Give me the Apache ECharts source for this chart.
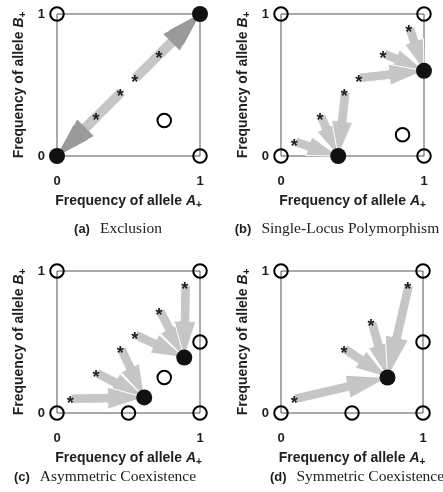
<!DOCTYPE html>
<html>
<head>
<meta charset="utf-8">
<script src="https://cdn.jsdelivr.net/npm/echarts@6/dist/echarts.min.js"></script>
<style>
  html, body { margin: 0; padding: 0; background: #fff; }
  #chart { width: 443px; height: 492px; }
</style>
</head>
<body>
<div id="chart"></div>
<script>
// Phase portraits of the allele frequencies (A+, B+) under four regimes.
// Open circles: unstable equilibria. Filled circles: stable equilibria.
// Asterisks: initial conditions; arrows: where each trajectory ends up.

const captionTags   = ['(a)', '(b)', '(c)', '(d)'];
const captionTitles = ['Exclusion', 'Single-Locus Polymorphism', 'Asymmetric Coexistence', 'Symmetric Coexistence'];
const tickLabels    = ['0', '1'];

// (a) Exclusion
const unstableA = [[0, 1], [1, 0], [0.75, 0.25]];
const stableA   = [[0, 0], [1, 1]];
const startsA   = [[0.28, 0.28], [0.45, 0.45], [0.55, 0.55], [0.72, 0.72]];
const targetsA  = [0, 0, 1, 1];

// (b) Single-locus polymorphism
const unstableB = [[0, 0], [0, 1], [1, 1], [1, 0], [0.85, 0.15]];
const stableB   = [[0.4, 0], [1, 0.6]];
const startsB   = [[0.1, 0.1], [0.28, 0.28], [0.45, 0.45], [0.55, 0.55], [0.72, 0.72], [0.9, 0.9]];
const targetsB  = [0, 0, 0, 1, 1, 1];

// (c) Asymmetric coexistence
const unstableC = [[0, 0], [0, 1], [1, 1], [1, 0], [0.5, 0], [1, 0.5], [0.75, 0.25]];
const stableC   = [[0.61, 0.11], [0.89, 0.39]];
const startsC   = [[0.1, 0.1], [0.28, 0.28], [0.45, 0.45], [0.55, 0.55], [0.72, 0.72], [0.9, 0.9]];
const targetsC  = [0, 0, 0, 1, 1, 1];

// (d) Symmetric coexistence
const unstableD = [[0, 0], [0, 1], [1, 1], [1, 0], [0.5, 0], [1, 0.5]];
const stableD   = [[0.75, 0.25]];
const startsD   = [[0.1, 0.1], [0.45, 0.45], [0.64, 0.64], [0.9, 0.9]];
const targetsD  = [0, 0, 0, 0];

const panels = [
  { unstable: unstableA, stable: stableA, starts: startsA, targets: targetsA, twoTone: true },
  { unstable: unstableB, stable: stableB, starts: startsB, targets: targetsB, twoTone: false },
  { unstable: unstableC, stable: stableC, starts: startsC, targets: targetsC, twoTone: false },
  { unstable: unstableD, stable: stableD, starts: startsD, targets: targetsD, twoTone: false }
];

const grids = [
  { left: 57,  top: 14,  width: 143, height: 142 },
  { left: 281, top: 14,  width: 143, height: 142 },
  { left: 57,  top: 271, width: 143, height: 142 },
  { left: 281, top: 271, width: 142, height: 142 }
];
// caption centres
const captionPos = [[118, 229], [337, 229], [105, 477], [357, 477]];

const SANS  = '"Liberation Sans", Arial, Helvetica, sans-serif';
const SERIF = '"Liberation Serif", "Times New Roman", serif';
const INK = '#1e1e1e';
const ARROW_LIGHT = '#c6c6c6';
const ARROW_DARK  = '#9a9a9a';

const nameRich = {
  t: { fontFamily: SANS, fontSize: 14, fontWeight: 'bold', color: INK, lineHeight: 17 },
  v: { fontFamily: SANS, fontSize: 14, fontWeight: 'bold', fontStyle: 'italic', color: INK, lineHeight: 17 },
  s: { fontFamily: SANS, fontSize: 10, fontWeight: 'bold', color: INK, lineHeight: 10, verticalAlign: 'bottom' }
};

function axisBase(kind, gridIndex) {
  const isX = kind === 'x';
  return {
    type: 'value', gridIndex, min: 0, max: 1, interval: 1,
    axisLine: { show: false }, axisTick: { show: false }, splitLine: { show: false },
    axisLabel: {
      margin: isX ? 19 : 12,
      color: INK, fontFamily: SANS, fontSize: 13, fontWeight: 'bold',
      formatter: v => tickLabels[Math.round(v)]
    },
    name: isX ? '{t|Frequency of allele }{v|A}{s|+}' : '{t|Frequency of allele }{v|B}{s|+}',
    nameLocation: 'middle',
    nameGap: isX ? 37 : 29,
    nameTextStyle: { rich: nameRich }
  };
}

// Wide-shaft arrow from p0 to p1 (pixel coordinates)
function arrowGeometry(p0, p1) {
  const dx = p1[0] - p0[0], dy = p1[1] - p0[1];
  const L = Math.hypot(dx, dy);
  const ux = dx / L, uy = dy / L, nx = -uy, ny = ux;
  const hl = Math.min(L, 22 + 0.2 * L);
  const hw = (16 + 0.08 * L) / 2;
  const sw = 4.8;
  const bx = p1[0] - ux * hl, by = p1[1] - uy * hl;
  return {
    shaft: [[p0[0] + nx * sw, p0[1] + ny * sw], [bx + nx * sw, by + ny * sw],
            [bx - nx * sw, by - ny * sw], [p0[0] - nx * sw, p0[1] - ny * sw]],
    head: [[bx + nx * hw, by + ny * hw], [p1[0], p1[1]], [bx - nx * hw, by - ny * hw]],
    outline: [[p0[0] + nx * sw, p0[1] + ny * sw], [bx + nx * sw, by + ny * sw], [bx + nx * hw, by + ny * hw],
              [p1[0], p1[1]], [bx - nx * hw, by - ny * hw], [bx - nx * sw, by - ny * sw],
              [p0[0] - nx * sw, p0[1] - ny * sw]]
  };
}

function arrowRenderer(twoTone) {
  return function (params, api) {
    const p0 = api.coord([api.value(0), api.value(1)]);
    const p1 = api.coord([api.value(2), api.value(3)]);
    const g = arrowGeometry(p0, p1);
    if (twoTone) {
      return {
        type: 'group',
        children: [
          { type: 'polygon', shape: { points: g.shaft }, style: { fill: ARROW_LIGHT } },
          { type: 'polygon', shape: { points: g.head }, style: { fill: ARROW_DARK } }
        ]
      };
    }
    return { type: 'polygon', shape: { points: g.outline }, style: { fill: ARROW_LIGHT, stroke: '#fff', lineWidth: 1 } };
  };
}

function starRenderer(params, api) {
  const p = api.coord([api.value(0), api.value(1)]);
  return {
    type: 'text',
    x: p[0] - 1, y: p[1] + 5,
    style: { text: '*', fill: INK, font: 'bold 18px ' + SANS, align: 'center', verticalAlign: 'middle' }
  };
}

const xAxes = [], yAxes = [], series = [], graphics = [];

panels.forEach((pn, i) => {
  xAxes.push(axisBase('x', i));
  yAxes.push(axisBase('y', i));

  let arrows = pn.starts.map((s, k) => {
    const t = pn.stable[pn.targets[k]];
    return [s[0], s[1], t[0], t[1]];
  });
  // shorter arrows underneath longer ones
  arrows = arrows.slice().sort((a, b) =>
    Math.hypot(a[2] - a[0], a[3] - a[1]) - Math.hypot(b[2] - b[0], b[3] - b[1]));

  series.push({
    type: 'custom', xAxisIndex: i, yAxisIndex: i, clip: false, z: 2,
    renderItem: arrowRenderer(pn.twoTone), data: arrows, silent: true
  });
  series.push({
    type: 'scatter', xAxisIndex: i, yAxisIndex: i, clip: false, z: 3, silent: true,
    symbol: 'circle', symbolSize: 13.5, data: pn.unstable,
    itemStyle: { color: 'rgba(0,0,0,0)', borderColor: '#000', borderWidth: 2, opacity: 1 }
  });
  series.push({
    type: 'scatter', xAxisIndex: i, yAxisIndex: i, clip: false, z: 4, silent: true,
    symbol: 'circle', symbolSize: 16, data: pn.stable,
    itemStyle: { color: '#111', opacity: 1 }
  });
  series.push({
    type: 'custom', xAxisIndex: i, yAxisIndex: i, clip: false, z: 5, silent: true,
    renderItem: starRenderer, data: pn.starts
  });

  graphics.push({
    type: 'text', x: captionPos[i][0], y: captionPos[i][1], silent: true,
    style: {
      text: '{b|' + captionTags[i] + '}{r|' + captionTitles[i] + '}',
      verticalAlign: 'middle', align: 'center',
      rich: {
        b: { fontFamily: SANS, fontSize: 13, fontWeight: 'bold', fill: INK, color: INK },
        r: { fontFamily: SERIF, fontSize: 15.5, fill: '#222', color: '#222', padding: [0, 0, 0, 10] }
      }
    }
  });
});

const chart = echarts.init(document.getElementById('chart'), null, { renderer: 'canvas' });
chart.setOption({
  animation: false,
  backgroundColor: '#fff',
  grid: grids.map(g => Object.assign({ show: true, borderColor: '#555', borderWidth: 1, backgroundColor: 'transparent' }, g)),
  xAxis: xAxes,
  yAxis: yAxes,
  series: series,
  graphic: graphics
});
</script>
</body>
</html>
